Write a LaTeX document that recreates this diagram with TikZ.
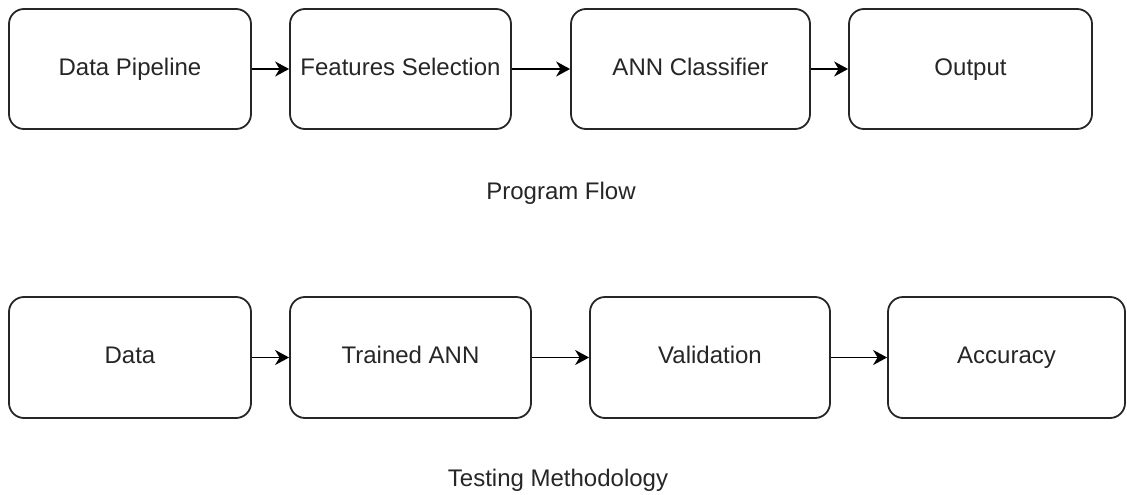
\documentclass[tikz,border=0pt]{standalone}
\usepackage{fontspec}
\setmainfont{Liberation Sans}
\usetikzlibrary{arrows.meta}
\begin{document}
\begin{tikzpicture}[x=1pt,y=-1pt,
  box/.style={draw=black!85, line width=1.8pt, rounded corners=15pt, fill=white,
    inner sep=0pt, text height=17pt, text depth=5pt, align=center,
    font=\fontsize{24}{28}\selectfont, text=black!85},
  conn/.style={draw=black, line width=1.8pt, -{Stealth[length=14pt,width=15pt,inset=4.5pt]}},
  caption/.style={anchor=base, inner sep=0pt, font=\fontsize{24}{28}\selectfont, text=black!85}]
\useasboundingbox[fill=white] (0,0) rectangle (1127,495);
% top row
\node[box, minimum width=242pt, minimum height=120pt] (p1) at (130,69) {Data Pipeline};
\node[box, minimum width=221pt, minimum height=120pt] (p2) at (400.5,69) {Features Selection};
\node[box, minimum width=239pt, minimum height=120pt] (p3) at (690.5,69) {ANN Classifier};
\node[box, minimum width=243pt, minimum height=120pt] (p4) at (970.5,69) {Output};
\draw[conn] (p1) -- (p2);
\draw[conn] (p2) -- (p3);
\draw[conn] (p3) -- (p4);
\node[caption] (cap1) at (561,199) {Program Flow};
% bottom row
\node[box, minimum width=242pt, minimum height=121pt] (t1) at (130,357.5) {Data};
\node[box, minimum width=241pt, minimum height=121pt] (t2) at (410.5,357.5) {Trained ANN};
\node[box, minimum width=240pt, minimum height=121pt] (t3) at (710,357.5) {Validation};
\node[box, minimum width=237pt, minimum height=121pt] (t4) at (1006.5,357.5) {Accuracy};
\draw[conn] (t1) -- (t2);
\draw[conn] (t2) -- (t3);
\draw[conn] (t3) -- (t4);
\node[caption] (cap2) at (558,486) {Testing Methodology};
\end{tikzpicture}
\end{document}
